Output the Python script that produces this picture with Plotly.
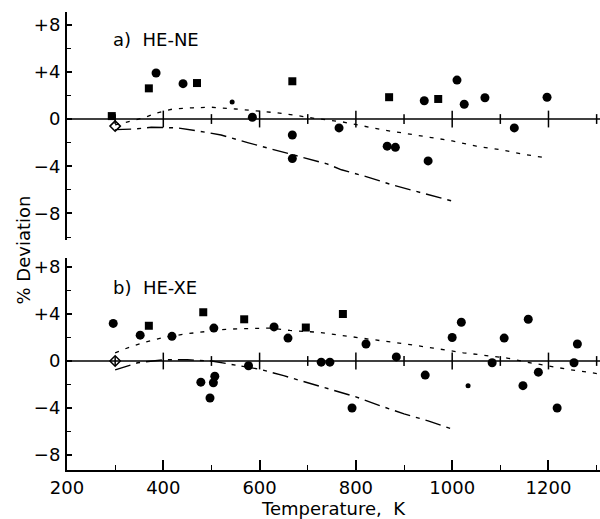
import plotly.graph_objects as go

# ---------------- data ----------------
# a) HE-NE
ne_circle_T = [385, 441, 585, 668, 668, 765, 865, 882, 942, 950, 1010, 1025, 1068, 1129, 1197]
ne_circle_dev = [3.9, 3.0, 0.15, -1.35, -3.35, -0.75, -2.3, -2.4, 1.55, -3.55, 3.3, 1.25, 1.8, -0.75, 1.85]
ne_square_T = [293, 370, 470, 668, 869, 971]
ne_square_dev = [0.25, 2.6, 3.05, 3.2, 1.85, 1.7]
ne_dot_T = [543]
ne_dot_dev = [1.45]
ne_diamond_T = [300]
ne_diamond_dev = [-0.6]

ne_dash_T = [300, 330, 360, 385, 420, 460, 500, 550, 580, 630, 670, 715, 773, 820, 860, 900, 960, 1000, 1050, 1100, 1150, 1197]
ne_dash_dev = [-0.5, -0.2, 0.1, 0.5, 0.85, 0.95, 1.0, 0.85, 0.75, 0.55, 0.35, 0.05, -0.25, -0.65, -0.95, -1.2, -1.6, -1.85, -2.3, -2.6, -3.0, -3.3]
ne_dashdot_T = [300, 340, 375, 430, 470, 520, 575, 630, 680, 740, 770, 823, 877, 900, 1000]
ne_dashdot_dev = [-0.9, -0.85, -0.7, -0.75, -1.0, -1.35, -2.0, -2.6, -3.2, -3.8, -4.3, -4.9, -5.6, -5.85, -6.95]

# b) HE-XE
xe_circle_T = [296, 352, 418, 505, 478, 507, 504, 497, 577, 630, 659, 728, 746, 821, 792, 884, 944,
               1000, 1019, 1083, 1108, 1147, 1158, 1179, 1218, 1253, 1260]
xe_circle_dev = [3.2, 2.2, 2.1, 2.8, -1.8, -1.3, -1.85, -3.15, -0.4, 2.9, 1.95, -0.1, -0.1, 1.45, -4.0, 0.35, -1.2,
                 2.0, 3.3, -0.15, 1.95, -2.1, 3.55, -0.95, -4.0, -0.15, 1.45]
xe_square_T = [370, 483, 568, 696, 773]
xe_square_dev = [3.0, 4.15, 3.55, 2.85, 4.0]
xe_dot_T = [1033]
xe_dot_dev = [-2.1]
xe_diamond_T = [300]
xe_diamond_dev = [0.0]

xe_dash_T = [300, 331, 362, 400, 445, 485, 530, 560, 600, 622, 663, 720, 767, 830, 865, 920, 961, 996,
             1023, 1064, 1114, 1162, 1197, 1239, 1290, 1305]
xe_dash_dev = [0.7, 1.2, 1.6, 2.0, 2.3, 2.5, 2.7, 2.75, 2.8, 2.8, 2.6, 2.45, 2.2, 1.85, 1.7, 1.35, 1.1, 0.85,
               0.7, 0.5, 0.25, -0.15, -0.4, -0.7, -1.0, -1.1]
xe_dashdot_T = [300, 347, 400, 450, 500, 545, 600, 650, 700, 750, 800, 850, 900, 950, 1000]
xe_dashdot_dev = [-0.75, -0.15, 0.1, 0.1, 0.0, -0.3, -0.7, -1.25, -1.85, -2.45, -3.05, -3.8, -4.5, -5.1, -5.8]

x_tick_vals = [200, 400, 600, 800, 1000, 1200]
x_tick_text = ["200", "400", "600", "800", "1000", "1200"]
y_tick_vals = [-8, -4, 0, 4, 8]
y_tick_text = ["\u22128", "\u22124", "0", "+4", "+8"]
zero_major = [400, 600, 800, 1000, 1200]
zero_minor = [300, 500, 700, 900, 1100, 1300]

X_RANGE = [200, 1307]
FONT = "DejaVu Sans, sans-serif"

fig = go.Figure()

def add_panel(yax, circT, circD, sqT, sqD, dotT, dotD, diaT, diaD, dT, dD, ddT, ddD):
    fig.add_trace(go.Scatter(x=dT, y=dD, mode="lines", yaxis=yax,
                             line=dict(color="black", width=1.3, dash="4px,7px")))
    fig.add_trace(go.Scatter(x=ddT, y=ddD, mode="lines", yaxis=yax,
                             line=dict(color="black", width=1.4, dash="16px,6px,4px,6px")))
    # zero line tick crosses
    fig.add_trace(go.Scatter(x=zero_major, y=[0] * len(zero_major), mode="markers", yaxis=yax,
                             marker=dict(symbol="line-ns-open", size=12, color="black",
                                         line=dict(color="black", width=1.5))))
    fig.add_trace(go.Scatter(x=zero_minor, y=[0] * len(zero_minor), mode="markers", yaxis=yax,
                             marker=dict(symbol="line-ns-open", size=7, color="black",
                                         line=dict(color="black", width=1.5))))
    fig.add_trace(go.Scatter(x=circT, y=circD, mode="markers", yaxis=yax,
                             marker=dict(symbol="circle", size=9, color="black")))
    fig.add_trace(go.Scatter(x=sqT, y=sqD, mode="markers", yaxis=yax,
                             marker=dict(symbol="square", size=8, color="black")))
    fig.add_trace(go.Scatter(x=dotT, y=dotD, mode="markers", yaxis=yax,
                             marker=dict(symbol="circle", size=5, color="black")))
    fig.add_trace(go.Scatter(x=diaT, y=diaD, mode="markers", yaxis=yax,
                             marker=dict(symbol="diamond-open", size=8, color="black",
                                         line=dict(color="black", width=1.5))))

add_panel("y", ne_circle_T, ne_circle_dev, ne_square_T, ne_square_dev, ne_dot_T, ne_dot_dev,
          ne_diamond_T, ne_diamond_dev, ne_dash_T, ne_dash_dev, ne_dashdot_T, ne_dashdot_dev)
add_panel("y2", xe_circle_T, xe_circle_dev, xe_square_T, xe_square_dev, xe_dot_T, xe_dot_dev,
          xe_diamond_T, xe_diamond_dev, xe_dash_T, xe_dash_dev, xe_dashdot_T, xe_dashdot_dev)

yaxis_common = dict(
    tickvals=y_tick_vals, ticktext=y_tick_text, ticks="inside", ticklen=5, tickwidth=1.5,
    tickcolor="black", showline=True, linecolor="black", linewidth=2, showgrid=False,
    zeroline=False, tickfont=dict(family=FONT, size=18, color="black"), anchor="x",
    minor=dict(dtick=2, tick0=0, ticks="inside", ticklen=4, tickwidth=1.2, tickcolor="black", showgrid=False),
    ticklabelstandoff=1,
)

fig.update_layout(
    width=600, height=519,
    margin=dict(l=67, r=0, t=12, b=49),
    paper_bgcolor="white", plot_bgcolor="white",
    showlegend=False,
    font=dict(family=FONT, color="black"),
    xaxis=dict(range=X_RANGE, tickvals=x_tick_vals, ticktext=x_tick_text, ticks="inside",
               ticklen=10, tickwidth=1.5, tickcolor="black", showline=True, linecolor="black",
               linewidth=2, showgrid=False, zeroline=False, anchor="y2",
               tickfont=dict(family=FONT, size=18, color="black"),
               minor=dict(dtick=100, tick0=200, ticks="inside", ticklen=5, tickwidth=1.2,
                          tickcolor="black", showgrid=False),
               title=dict(text="Temperature,  K", font=dict(family=FONT, size=18, color="black"),
                          standoff=0)),
    yaxis=dict(domain=[0.5022, 1.0], range=[-10.25, 9.07], **yaxis_common),
    yaxis2=dict(domain=[0.0, 0.4629], range=[-9.28, 8.77], **yaxis_common),
    shapes=[
        dict(type="line", xref="x domain", yref="y", x0=0, x1=1, y0=0, y1=0,
             line=dict(color="black", width=1.6)),
        dict(type="line", xref="x domain", yref="y2", x0=0, x1=1, y0=0, y1=0,
             line=dict(color="black", width=1.6)),
    ],
    annotations=[
        dict(text="a)  HE-NE", xref="x", yref="y", x=291, y=6.7, xanchor="left", yanchor="middle",
             showarrow=False, font=dict(family=FONT, size=18, color="black")),
        dict(text="b)  HE-XE", xref="x", yref="y2", x=291, y=6.3, xanchor="left", yanchor="middle",
             showarrow=False, font=dict(family=FONT, size=18, color="black")),
        dict(text="% Deviation", xref="paper", yref="paper", x=-0.082, y=0.48, textangle=-90,
             xanchor="center", yanchor="middle", showarrow=False,
             font=dict(family=FONT, size=18, color="black")),
    ],
)

fig.write_html("out.html")
